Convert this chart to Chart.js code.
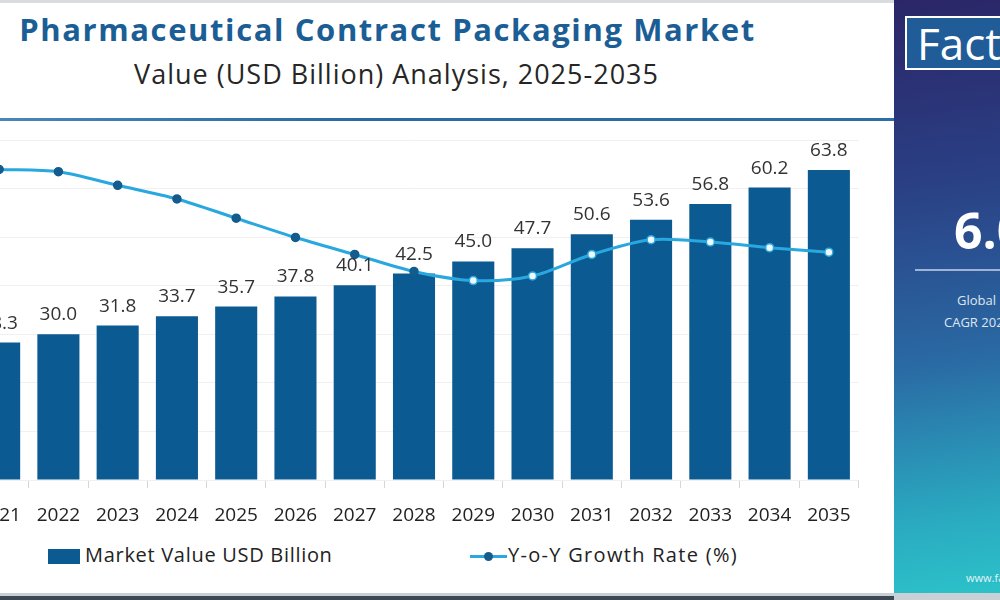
<!DOCTYPE html>
<html>
<head>
<meta charset="utf-8">
<script src="https://cdn.jsdelivr.net/npm/chart.js@4.4.1/dist/chart.umd.min.js"></script>
<style>
  html, body { margin: 0; padding: 0; }
  body {
    width: 1000px; height: 600px; position: relative; overflow: hidden;
    background: #fff; font-family: "Open Sans", "DejaVu Sans", sans-serif;
  }
  .abs { position: absolute; white-space: nowrap; }
  #topBand { left: 0; top: 0; width: 1000px; height: 3px; background: #d9dcdf; }
  #bottomBand { left: 0; top: 593px; width: 1000px; height: 7px; background: #c9d0d6; }
  #bottomBand::after { content: ""; position: absolute; left: 0; top: 3px; width: 894px; height: 4px; background: #3c4955; }
  #title { left: 0; width: 775px; top: 8px; text-align: center; font-size: 31px; font-weight: 700; letter-spacing: 1.6px; color: #1b5e95; }
  #subtitle { left: 0; width: 793px; top: 55px; text-align: center; font-size: 27px; letter-spacing: 1px; color: #262626; }
  #rule { left: 0; top: 118px; width: 894px; height: 3px; background: linear-gradient(90deg, #4a86b6, #2a6aa0 40%, #2e6ea2); }
  #chartBox { left: -36px; top: 130px; }
  #panel {
    left: 894px; top: 0; width: 106px; height: 600px;
    background: linear-gradient(172deg, #2b2667 0%, #2a3f84 30%, #2a6aa4 60%, #2aa9c0 85%, #2cc4ca 100%);
  }
  #logo { left: 905px; top: 16px; width: 110px; height: 50px; border: 2px solid #fff; background: #1f5c98; }
  #logoText { left: 917px; top: 13px; font-size: 44px; color: #fff; }
  #cagr { left: 954px; top: 196px; font-size: 50px; font-weight: 700; color: #fff; }
  #panelRule { left: 915px; top: 269px; width: 90px; height: 2px; background: #9db4d6; }
  #glob { left: 957px; top: 291px; font-size: 13px; color: #dfe6f2; }
  #cagrTxt { left: 944px; top: 313px; font-size: 13px; color: #dfe6f2; }
  #www { left: 966px; top: 570px; font-size: 11px; color: #e4f4f6; }
  .legTxt { top: 541px; font-size: 20px; color: #222; }
</style>
</head>
<body>
<div class="abs" id="topBand"></div>
<div class="abs" id="title">Pharmaceutical Contract Packaging Market</div>
<div class="abs" id="subtitle">Value (USD Billion) Analysis, 2025-2035</div>
<div class="abs" id="rule"></div>

<div class="abs" id="chartBox"><canvas id="marketChart" width="900" height="400"></canvas></div>

<!-- legend -->
<div class="abs" style="left:48px; top:549px; width:32px; height:15px; background:#0c5a92;"></div>
<div class="abs legTxt" style="left:85px; letter-spacing:0.7px;">Market Value USD Billion</div>
<div class="abs" style="left:470px; top:555px; width:37px; height:3px; background:#29a8e0;"></div>
<div class="abs" style="left:484px; top:552px; width:9px; height:9px; border-radius:50%; background:#145c8e;"></div>
<div class="abs legTxt" style="left:508px; letter-spacing:1.3px;">Y-o-Y Growth Rate (%)</div>

<div class="abs" id="panel"></div>
<div class="abs" id="logo"></div>
<div class="abs" id="logoText">Fact.MR</div>
<div class="abs" id="cagr">6.0%</div>
<div class="abs" id="panelRule"></div>
<div class="abs" id="glob">Global Market</div>
<div class="abs" id="cagrTxt">CAGR 2025-2035</div>
<div class="abs" id="www">www.factmr.com</div>
<div class="abs" id="bottomBand"></div>

<script>
// years shown on the x axis
const years = ['2021', '2022', '2023', '2024', '2025', '2026', '2027', '2028',
  '2029', '2030', '2031', '2032', '2033', '2034', '2035'];
// market value, USD billion
const marketValue = [28.3, 30.0, 31.8, 33.7, 35.7, 37.8, 40.1, 42.5,
  45.0, 47.7, 50.6, 53.6, 56.8, 60.2, 63.8];
const growthRate = [6.74, 6.72, 6.60, 6.48, 6.31, 6.14, 5.99, 5.84,
  5.76, 5.80, 5.99, 6.12, 6.10, 6.05, 6.01];
// value axis ticks (gridlines only)
const valueTicks = [0, 10, 20, 30, 40, 50, 60, 70];

const barBlue = '#0c5a92';
const lineBlue = '#29a8e0';

// value labels above the bars
const barLabels = {
  id: 'barLabels',
  afterDatasetsDraw(chart) {
    const meta = chart.getDatasetMeta(0);
    const c = chart.ctx;
    c.save();
    c.font = '19px "Open Sans", sans-serif';
    c.fillStyle = '#333';
    c.textAlign = 'center';
    c.textBaseline = 'alphabetic';
    meta.data.forEach((bar, i) => {
      c.fillText(marketValue[i].toFixed(1), bar.x, bar.y - 14);
    });
    c.restore();
  }
};

const ctx = document.getElementById('marketChart').getContext('2d');
const marketChart = new Chart(ctx, {
  type: 'bar',
  data: {
    labels: years,
    datasets: [{
      type: 'bar',
      label: 'Market Value USD Billion',
      data: marketValue,
      backgroundColor: barBlue,
      barPercentage: 0.71,
      categoryPercentage: 1,
      yAxisID: 'y',
      order: 2
    }, {
      type: 'line',
      label: 'Y-o-Y Growth Rate (%)',
      data: growthRate,
      borderColor: lineBlue,
      borderWidth: 3,
      tension: 0.3,
      pointRadius: 4,
      pointBorderWidth: 1.5,
      pointBackgroundColor: years.map((y, i) => i < 8 ? '#145c8e' : '#eef8fd'),
      pointBorderColor: years.map((y, i) => i < 8 ? '#145c8e' : lineBlue),
      yAxisID: 'y2',
      order: 1
    }]
  },
  options: {
    responsive: false,
    animation: false,
    layout: { padding: { top: 10, left: 0, right: 0, bottom: 0 } },
    plugins: {
      legend: { display: false },
      tooltip: { enabled: false }
    },
    scales: {
      x: {
        offset: true,
        border: { display: false },
        grid: { offset: true, drawOnChartArea: false, tickLength: 8, color: '#d6d6d6' },
        ticks: { color: '#222', font: { size: 19, family: '"Open Sans", sans-serif' }, padding: 16 },
        afterFit(scale) {
          scale.height = 50;
          scale.paddingLeft = 0;
          scale.paddingRight = 0;
        }
      },
      y: {
        display: true,
        min: 0,
        max: 70,
        border: { display: false },
        grid: { color: '#f0f0f0', drawTicks: false },
        ticks: { display: false, stepSize: 10 },
        afterBuildTicks(scale) { scale.ticks = valueTicks.map(v => ({ value: v })); },
        afterFit(scale) { scale.width = 0; }
      },
      y2: {
        display: false,
        min: 4,
        max: 7
      }
    }
  },
  plugins: [barLabels]
});
</script>
</body>
</html>
